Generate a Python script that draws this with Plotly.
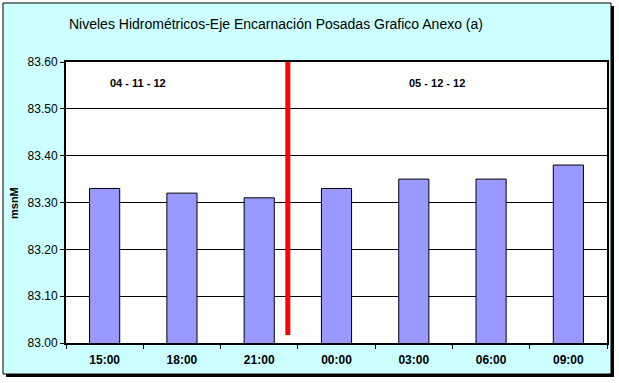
import plotly.graph_objects as go

categories = ["15:00", "18:00", "21:00", "00:00", "03:00", "06:00", "09:00"]
levels = [83.33, 83.32, 83.31, 83.33, 83.35, 83.35, 83.38]
date_labels = ["04 - 11 - 12", "05 - 12 - 12"]
date_label_x = [0.43, 4.3]
date_label_y = [83.555, 83.555]
separator_x = 2.37
separator_y = [83.017, 83.6]
y_ticks = [83.0, 83.1, 83.2, 83.3, 83.4, 83.5, 83.6]

W, H = 619, 383
L, R, T, B = 66, 12, 62, 40
pw, ph = W - L - R, H - T - B

def px(x):
    return (x - L) / pw

def py(y):
    return (H - B - y) / ph

FONT = "Arial, Liberation Sans, sans-serif"

fig = go.Figure()
fig.add_trace(go.Bar(
    x=categories, y=levels,
    marker=dict(color="#9999FF", line=dict(color="black", width=1)),
    hoverinfo="skip",
))

shapes = [
    dict(type="rect", xref="paper", yref="paper", x0=px(6), x1=px(614), y0=py(377), y1=py(6),
         fillcolor="black", line=dict(width=0), layer="below"),
    dict(type="rect", xref="paper", yref="paper", x0=px(3), x1=px(611), y0=py(374), y1=py(3),
         fillcolor="#CCFFFF", line=dict(color="black", width=1), layer="below"),
    dict(type="rect", xref="paper", yref="paper", x0=0, x1=1, y0=0, y1=1,
         fillcolor="white", line=dict(width=0), layer="below"),
    dict(type="line", xref="x", yref="y", x0=separator_x, x1=separator_x,
         y0=separator_y[0], y1=separator_y[1], line=dict(color="#FF0000", width=5), layer="above"),
]

annotations = [
    dict(text=t, x=x, y=y, xref="x", yref="y", showarrow=False,
         font=dict(family=FONT, size=11, color="black", weight="bold"))
    for t, x, y in zip(date_labels, date_label_x, date_label_y)
]
annotations.append(dict(text="Niveles Hidrométricos-Eje Encarnación Posadas Grafico Anexo (a)",
                        xref="paper", yref="paper", x=px(276), y=py(24), showarrow=False,
                        font=dict(family=FONT, size=14, color="black"), xanchor="center", yanchor="middle"))
annotations.append(dict(text="msnM", xref="paper", yref="paper", x=px(14), y=py(203), showarrow=False,
                        textangle=-90, xanchor="center", yanchor="middle",
                        font=dict(family=FONT, size=11, color="black", weight="bold")))

fig.update_layout(
    width=W, height=H,
    margin=dict(l=L, r=R, t=T, b=B, autoexpand=False),
    paper_bgcolor="white", plot_bgcolor="white",
    bargap=0.61,
    showlegend=False,
    shapes=shapes, annotations=annotations,
    font=dict(family=FONT, size=12, color="black"),
)
fig.update_xaxes(
    type="category", showline=True, linecolor="black", linewidth=2, mirror=True,
    ticks="outside", tickson="boundaries", ticklen=4, tickcolor="black", tickwidth=1,
    tickfont=dict(family=FONT, size=12, color="black", weight="bold"),
    ticklabelstandoff=5,
    showgrid=False, range=[-0.5, 6.5], automargin=False,
)
fig.update_yaxes(
    range=[83.0, 83.6], tickvals=y_ticks, tickformat=".2f",
    showline=True, linecolor="black", linewidth=2, mirror=True,
    ticks="outside", ticklen=4, tickcolor="black", tickwidth=1,
    showgrid=True, gridcolor="black", gridwidth=1, zeroline=False,
    tickfont=dict(family=FONT, size=12, color="black"), automargin=False,
)
fig.write_html("out.html", config={"displayModeBar": False},
               post_script="document.body.style.margin='0';document.body.style.overflow='hidden';")
